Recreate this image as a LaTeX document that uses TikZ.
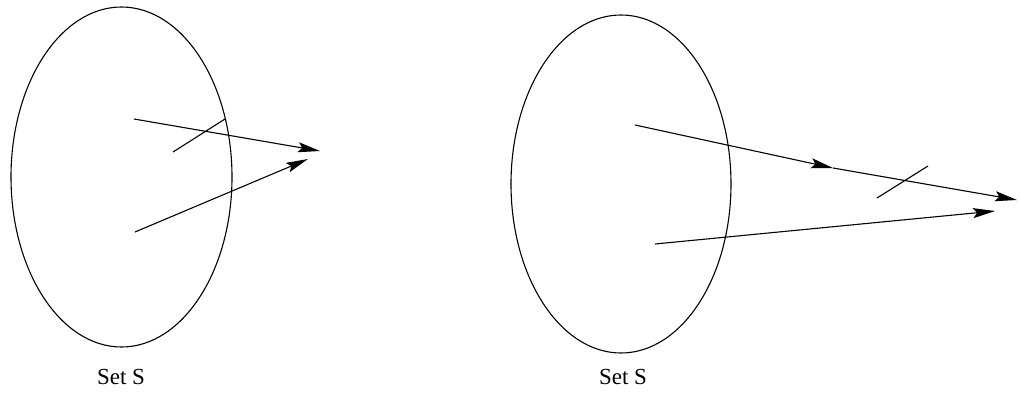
\documentclass[tikz,border=0pt]{standalone}
\usepackage{fontspec}
\setmainfont{Liberation Serif}
\usetikzlibrary{arrows.meta}
\begin{document}
\begin{tikzpicture}[x=1pt,y=-1pt,
  setline/.style={line width=1.1pt,black},
  arr/.style={line width=1.1pt,-{Stealth[length=22pt,width=10pt,inset=4pt]}},
  plain/.style={line width=1.1pt},
  lbl/.style={font=\fontsize{23}{26}\selectfont,inner sep=0pt}]
\useasboundingbox (0,0) rectangle (1021,394);
% left set
\draw[setline] (121.5,177) ellipse [x radius=110.5, y radius=170];
\node[lbl] (l1) at (121,377) {Set S};
\coordinate (la) at (134,119);
\coordinate (lat) at (320,151);
\coordinate (lb) at (135,232);
\coordinate (lbt) at (308,159);
\coordinate (ls1) at (173,152);
\coordinate (ls2) at (225,119);
\draw[arr] (la) -- (lat);
\draw[arr] (lb) -- (lbt);
\draw[plain] (ls1) -- (ls2);
% right set
\draw[setline] (621,184) ellipse [x radius=110, y radius=169];
\node[lbl] (l2) at (623,377) {Set S};
\coordinate (ra) at (635,125);
\coordinate (rm) at (833,168);
\coordinate (rat) at (1017,200);
\coordinate (rb) at (655,244);
\coordinate (rbt) at (995,211);
\coordinate (rs1) at (877,198);
\coordinate (rs2) at (928,166);
\draw[arr] (ra) -- (rm);
\draw[arr] (rm) -- (rat);
\draw[arr] (rb) -- (rbt);
\draw[plain] (rs1) -- (rs2);
\end{tikzpicture}
\end{document}
